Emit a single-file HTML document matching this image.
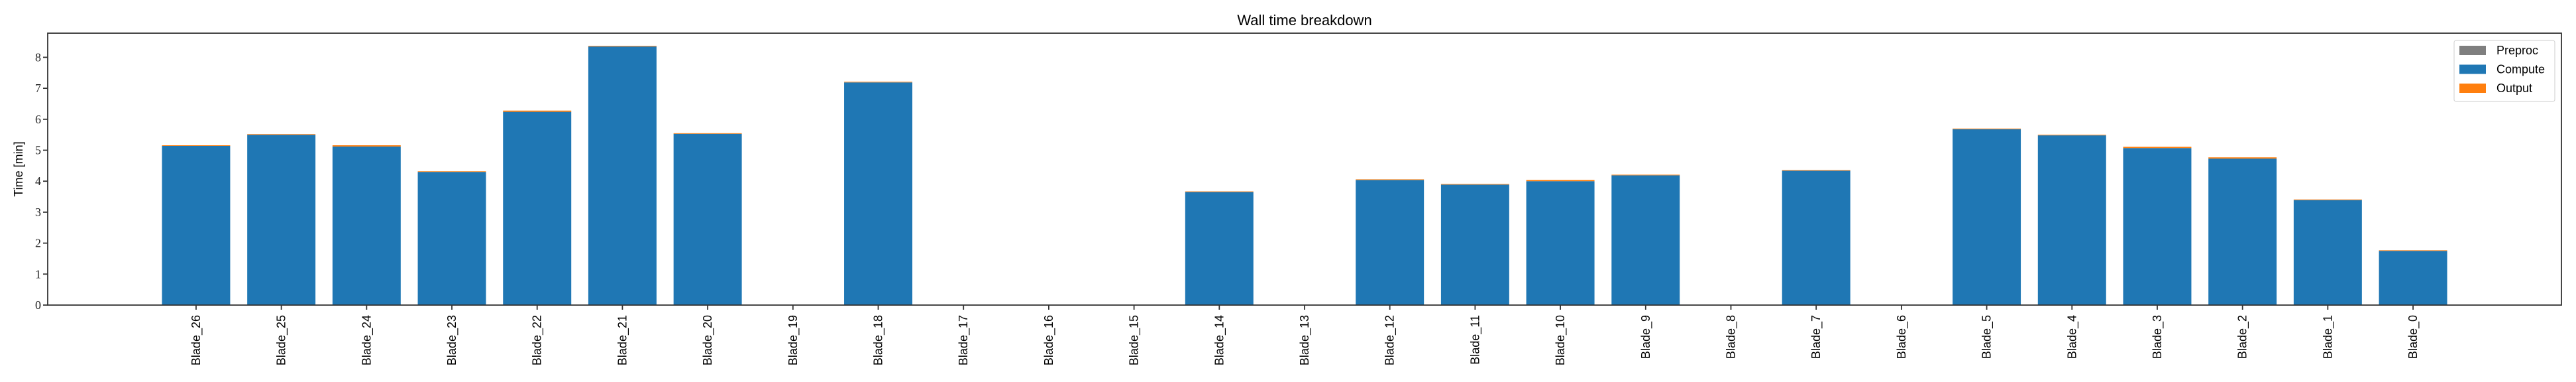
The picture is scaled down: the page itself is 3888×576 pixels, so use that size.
<!DOCTYPE html>
<html><head><meta charset="utf-8"><style>
html,body{margin:0;padding:0;background:#fff;}
svg{display:block;}
</style></head><body>
<svg id="chart" width="3888" height="576" xmlns="http://www.w3.org/2000/svg"></svg>
<script>
const categories = ["Blade_26","Blade_25","Blade_24","Blade_23","Blade_22","Blade_21","Blade_20","Blade_19","Blade_18","Blade_17","Blade_16","Blade_15","Blade_14","Blade_13","Blade_12","Blade_11","Blade_10","Blade_9","Blade_8","Blade_7","Blade_6","Blade_5","Blade_4","Blade_3","Blade_2","Blade_1","Blade_0"];
const preproc = [0,0,0,0,0,0,0,0,0,0,0,0,0,0,0,0,0,0,0,0,0,0,0,0,0,0,0];
const compute = [5.14,5.50,5.12,4.30,6.24,8.35,5.53,0,7.19,0,0,0,3.65,0,4.04,3.89,4.00,4.19,0,4.34,0,5.68,5.48,5.07,4.73,3.39,1.75];
const output  = [0.02,0.02,0.04,0.02,0.04,0.02,0.02,0,0.02,0,0,0,0.02,0,0.02,0.02,0.04,0.02,0,0.02,0,0.02,0.02,0.04,0.04,0.02,0.02];
const yTicks = [0,1,2,3,4,5,6,7,8];

const NS="http://www.w3.org/2000/svg";
const svg=document.getElementById('chart');
const L=72,R=3866,T=50,B=460;
const xMin=-1.74,xMax=27.74,yMin=0,yMax=8.78;
function xs(i){return L+(i-xMin)/(xMax-xMin)*(R-L);}
function ys(v){return B-(v-yMin)/(yMax-yMin)*(B-T);}
function mk(tag,attrs,parent){const e=document.createElementNS(NS,tag);for(const k in attrs)e.setAttribute(k,attrs[k]);(parent||svg).appendChild(e);return e;}

const title=mk('text',{x:(L+R)/2,y:38,'text-anchor':'middle','font-family':'Liberation Sans, sans-serif','font-size':22,fill:'#000'});
title.textContent='Wall time breakdown';



const bw=0.8;
const barsG=mk('g',{});


categories.forEach((c,i)=>{
  const x0=xs(i-bw/2),w=xs(i+bw/2)-x0;
  let base=0;
  [[preproc,'#7f7f7f','preproc'],[compute,'#1f77b4','compute'],[output,'#ff7f0e','output']].forEach(([arr,col,nm])=>{
    const v=arr[i];
    if(v>0){
      const r=mk('rect',{x:x0,y:ys(base+v),width:w,height:ys(base)-ys(base+v),fill:col},barsG);
      
      
    }
    base+=v;
  });
});

const frame=mk('rect',{x:L,y:T,width:R-L,height:B-T,fill:'none',stroke:'#333','stroke-width':1.8});



yTicks.forEach(t=>{
  const y=ys(t);
  mk('line',{x1:L-7,x2:L,y1:y,y2:y,stroke:'#333','stroke-width':1.8});
  const tx=mk('text',{x:L-10,y:y+6,'text-anchor':'end','font-family':'Liberation Serif, serif','font-size':18,fill:'#222'});
  tx.textContent=t;
  
  
});
categories.forEach((c,i)=>{
  const x=xs(i);
  mk('line',{x1:x,x2:x,y1:B,y2:B+7,stroke:'#333','stroke-width':1.8});
  const tx=mk('text',{x:0,y:0,'text-anchor':'end','font-family':'Liberation Sans, sans-serif','font-size':18,fill:'#000',transform:'translate('+(x+6)+','+(B+15)+') rotate(-90)'});
  tx.textContent=c;
  
  
});

const yl=mk('text',{x:0,y:0,'text-anchor':'middle','font-family':'Liberation Sans, sans-serif','font-size':18,fill:'#000',transform:'translate(34,'+((T+B)/2)+') rotate(-90)'});
yl.textContent='Time [min]';



const lg=mk('g',{});


mk('rect',{x:3704,y:61,width:152,height:92,rx:3,fill:'#fff',stroke:'#d6d6d6','stroke-width':1.2},lg);
[['Preproc','#7f7f7f'],['Compute','#1f77b4'],['Output','#ff7f0e']].forEach(([n,col],k)=>{
  const cy=76+k*28.5;
  const p=mk('rect',{x:3712,y:cy-7,width:40,height:14,fill:col},lg);
  
  
  const t=mk('text',{x:3768,y:cy+6,'font-family':'Liberation Sans, sans-serif','font-size':18,fill:'#000'},lg);
  t.textContent=n;
  
  
});
</script>
</body></html>
